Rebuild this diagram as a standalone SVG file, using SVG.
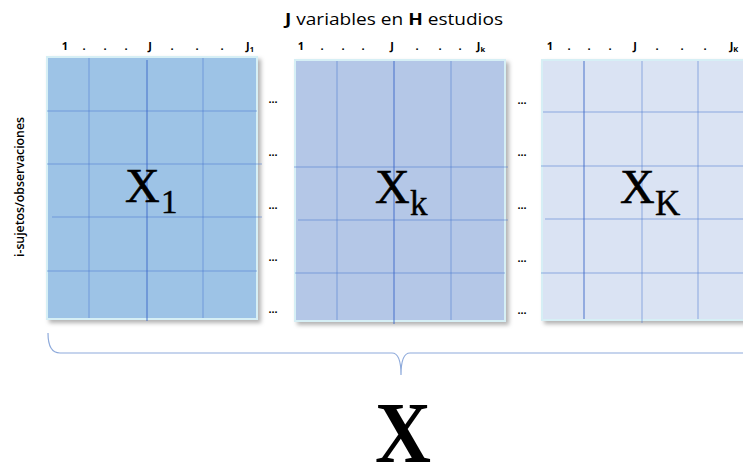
<svg xmlns="http://www.w3.org/2000/svg" width="743" height="467" viewBox="0 0 743 467">
<defs>
<filter id="sh" x="-10%" y="-10%" width="130%" height="130%">
<feDropShadow dx="3" dy="3" stdDeviation="2" flood-color="#000" flood-opacity="0.3"/>
</filter>
<style>
.hdr{font-family:"Open Sans","Liberation Sans",sans-serif;font-size:16px;fill:#000}
.col{font-family:"Open Sans","Liberation Sans",sans-serif;font-size:11px;font-weight:bold;fill:#000;text-anchor:middle}
.sub{font-size:7.5px}
.dots{font-family:"Liberation Sans",sans-serif;font-size:11px;font-weight:bold;fill:#000;text-anchor:middle}
.side{font-family:"Open Sans","Liberation Sans",sans-serif;font-size:12.5px;font-weight:600;fill:#000}
.lbl{font-family:"Liberation Serif","Times New Roman",serif;fill:#000}
.g{stroke:#4a78cf;stroke-width:1;stroke-opacity:0.55;fill:none}
.gd{stroke:#3a66c8;stroke-width:1;stroke-opacity:0.9;fill:none}
.frame{stroke:#d6eff5;stroke-width:2}
.brace{fill:none;stroke:#8eaadb;stroke-width:1.2}
</style>
</defs>
<rect width="743" height="467" fill="#fff"/>

<text class="hdr" x="285" y="25" textLength="218" lengthAdjust="spacingAndGlyphs"><tspan font-weight="bold">J</tspan> variables en <tspan font-weight="bold">H</tspan> estudios</text>

<text class="side" transform="translate(24,187) rotate(-90)" text-anchor="middle" textLength="140" lengthAdjust="spacingAndGlyphs">i-sujetos/observaciones</text>

<g id="matrix1">
<g class="col">
<text x="65" y="50">1</text><text x="84" y="50">.</text><text x="105" y="50">.</text><text x="126" y="50">.</text>
<text x="150" y="50">J</text><text x="172" y="50">.</text><text x="197" y="50">.</text><text x="222" y="50">.</text>
<text x="250" y="50">J<tspan class="sub" dy="2">1</tspan></text>
</g>
<rect x="47" y="57" width="210" height="262" fill="#9dc3e6" class="frame" filter="url(#sh)"/>
<path class="g" d="M89,58V318M203,58V318M47,111H257M47,164H262M52,217H262M47,271H257"/>
<path class="gd" d="M147,60V321"/>
<text class="lbl" x="125" y="202" font-size="48" stroke="#000" stroke-width="0.6">X</text>
<text class="lbl" x="161" y="213" font-size="33" stroke="#000" stroke-width="0.4">1</text>
</g>

<g id="dots1" class="dots">
<text x="273" y="103">...</text><text x="273" y="156">...</text><text x="273" y="209">...</text><text x="273" y="261">...</text><text x="273" y="313">...</text>
</g>

<g id="matrixk">
<g class="col">
<text x="301" y="50">1</text><text x="322" y="50">.</text><text x="343" y="50">.</text><text x="363" y="50">.</text>
<text x="392" y="50">J</text><text x="417" y="50">.</text><text x="440" y="50">.</text><text x="460" y="50">.</text>
<text x="481" y="50">J<tspan class="sub" dy="2">k</tspan></text>
</g>
<rect x="295" y="60" width="210" height="261" fill="#b4c7e7" class="frame" filter="url(#sh)"/>
<path class="g" d="M337,61V320M451,61V320M294,167H508M298,220H508M295,273H505"/>
<path class="gd" d="M394,61V324"/>
<text class="lbl" x="375" y="203" font-size="48" stroke="#000" stroke-width="0.6">X</text>
<text class="lbl" x="410" y="215" font-size="35" stroke="#000" stroke-width="0.4">k</text>
</g>

<g id="dots2" class="dots">
<text x="522" y="104">...</text><text x="522" y="156">...</text><text x="522" y="209">...</text><text x="522" y="262">...</text><text x="522" y="314">...</text>
</g>

<g id="matrixK">
<g class="col">
<text x="550" y="50">1</text><text x="569" y="50">.</text><text x="589" y="50">.</text><text x="610" y="50">.</text>
<text x="635" y="50">J</text><text x="657" y="50">.</text><text x="682" y="50">.</text><text x="705" y="50">.</text>
<text x="734" y="50">J<tspan class="sub" dy="2">K</tspan></text>
</g>
<rect x="542" y="60" width="210" height="260" fill="#dae3f3" class="frame" filter="url(#sh)"/>
<path class="g" d="M642,61V323M698,61V319M541,166H743M545,219H743M541,273H743" stroke-opacity="0.5"/>
<path class="g" d="M543,112H743" stroke-opacity="0.12"/>
<path class="gd" d="M584,61V319" stroke-opacity="0.7"/>
<text class="lbl" x="620" y="203" font-size="48" stroke="#000" stroke-width="0.6">X</text>
<text class="lbl" x="655" y="215" font-size="35" stroke="#000" stroke-width="0.4">K</text>
</g>

<g id="connectors">
<path class="brace" d="M48,333C48,347 52,353 60,353L392,353C398,353 401,360 401,375C401,360 404,353 410,353L745,353"/>
</g>

<g id="result">
<text class="lbl" x="375" y="462" font-size="86" font-weight="bold" textLength="56" lengthAdjust="spacingAndGlyphs">X</text>
</g>
</svg>
